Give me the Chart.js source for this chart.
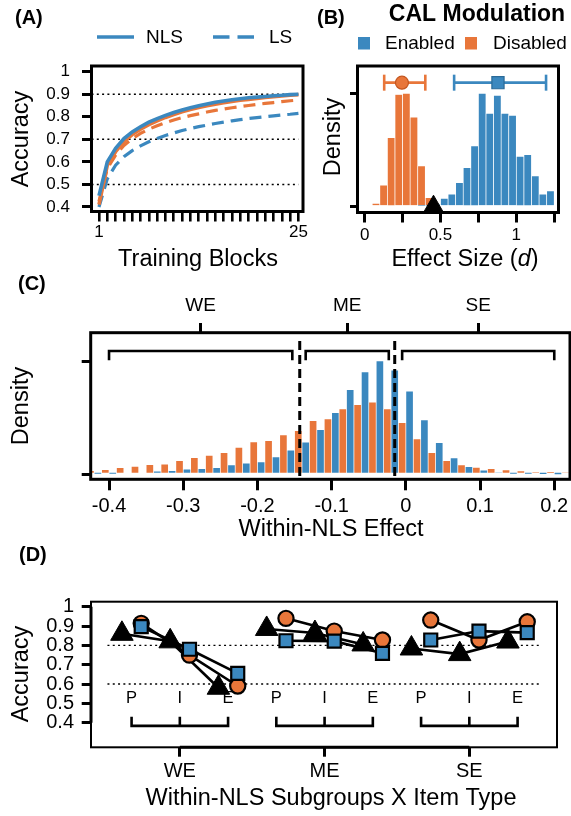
<!DOCTYPE html>
<html lang="en">
<head>
<meta charset="utf-8">
<title>CAL modulation</title>
<script src="https://cdn.jsdelivr.net/npm/chart.js@4.4.1/dist/chart.umd.min.js"></script>
<style>
  html, body { margin: 0; padding: 0; background: #ffffff; }
  #figure { position: relative; width: 571px; height: 816px; overflow: hidden; background: #ffffff; }
  #figure canvas { position: absolute; left: 0; top: 0; }
</style>
</head>
<body>
<div id="figure">
  <canvas id="chartA" width="571" height="816"></canvas>
  <canvas id="chartB" width="571" height="816"></canvas>
  <canvas id="chartC" width="571" height="816"></canvas>
  <canvas id="chartD" width="571" height="816"></canvas>
</div>
<script>
// ---- (A) learning curves ----
const trainingBlocks = [1, 2, 3, 4, 5, 6, 7, 8, 9, 10, 11, 12, 13, 14, 15, 16, 17, 18, 19, 20, 21, 22, 23, 24, 25];
const nlsEnabled  = [0.45, 0.60, 0.66, 0.703, 0.733, 0.756, 0.776, 0.792, 0.806, 0.819, 0.830, 0.840, 0.849, 0.857, 0.864, 0.870, 0.875, 0.880, 0.884, 0.887, 0.890, 0.893, 0.895, 0.898, 0.900];
const nlsDisabled = [0.41, 0.585, 0.645, 0.690, 0.721, 0.745, 0.765, 0.782, 0.797, 0.810, 0.822, 0.832, 0.841, 0.849, 0.856, 0.862, 0.868, 0.873, 0.877, 0.881, 0.885, 0.889, 0.892, 0.895, 0.898];
const lsDisabled  = [0.425, 0.57, 0.63, 0.673, 0.703, 0.726, 0.745, 0.760, 0.774, 0.786, 0.796, 0.805, 0.813, 0.821, 0.828, 0.834, 0.840, 0.845, 0.850, 0.855, 0.859, 0.863, 0.867, 0.871, 0.874];
const lsEnabled   = [0.40, 0.525, 0.585, 0.623, 0.650, 0.671, 0.689, 0.704, 0.717, 0.728, 0.739, 0.748, 0.756, 0.763, 0.770, 0.776, 0.782, 0.787, 0.792, 0.796, 0.800, 0.804, 0.808, 0.811, 0.815];
const accuracyTicks = [0.4, 0.5, 0.6, 0.7, 0.8, 0.9, 1];
const curveGuides = [0.5, 0.7, 0.9];

// ---- (B) effect size distributions ----
const effectBinMids = [0.075, 0.125, 0.175, 0.225, 0.275, 0.325, 0.375, 0.425, 0.475, 0.525, 0.575, 0.625,
                       0.675, 0.725, 0.775, 0.825, 0.875, 0.925, 0.975, 1.025, 1.075, 1.125, 1.175, 1.225];
const effectEnabled  = [0, 0, 0, 0, 0, 0, 0.01, 0.01, 0.02, 0.073, 0.112, 0.212,
                        0.344, 0.536, 1.0, 0.823, 0.982, 0.823, 0.806, 0.444, 0.459, 0.271, 0.112, 0.139];
const effectDisabled = [0.03, 0.19, 0.61, 0.99, 1.0, 0.79, 0.36, 0.08, 0, 0, 0, 0,
                        0, 0, 0, 0, 0, 0, 0, 0, 0, 0, 0, 0];
const effectMeanEnabled = 0.879;
const effectCIEnabled = [0.59, 1.196];
const effectMeanDisabled = 0.246;
const effectCIDisabled = [0.129, 0.40];
const effectObserved = 0.454;
const effectTicks = [0, 0.25, 0.5, 0.75, 1, 1.25];
const effectTickLabels = ['0', '', '0.5', '', '1', ''];

// ---- (C) within-NLS effect ----
const withinBinMids = [-0.42, -0.40, -0.38, -0.36, -0.34, -0.32, -0.30, -0.28, -0.26, -0.24, -0.22, -0.20, -0.18,
                       -0.16, -0.14, -0.12, -0.10, -0.08, -0.06, -0.04, -0.02, 0, 0.02, 0.04, 0.06, 0.08,
                       0.10, 0.12, 0.14, 0.16, 0.18, 0.20, 0.22];
const withinEnabled  = [0.006, 0.006, 0.015, 0.015, 0.024, 0.029, 0.042, 0.047, 0.056, 0.080, 0.095, 0.106, 0.150,
                        0.210, 0.281, 0.392, 0.542, 0.746, 0.903, 1.0, 0.918, 0.732, 0.478, 0.277, 0.142, 0.065,
                        0.033, 0.012, 0.006, 0.006, 0.002, 0.001, 0];
const withinDisabled = [0.029, 0.038, 0.056, 0.068, 0.082, 0.086, 0.118, 0.144, 0.165, 0.188, 0.236, 0.283, 0.295,
                        0.345, 0.383, 0.472, 0.487, 0.575, 0.613, 0.635, 0.575, 0.454, 0.310, 0.188, 0.118, 0.080,
                        0.059, 0.047, 0.035, 0.027, 0.018, 0.020, 0.012];
const withinTicks = [-0.4, -0.3, -0.2, -0.1, 0, 0.1, 0.2];
const subgroupNames = ['WE', 'ME', 'SE'];
const subgroupRanges = [[-0.4, -0.153], [-0.135, -0.023], [-0.005, 0.2]];
const subgroupCutoffs = [-0.143, -0.015];

// ---- (D) subgroup x item type accuracy ----
const itemTypes = ['P', 'I', 'E'];
const itemObserved = [0.86, 0.821, 0.581, 0.885, 0.864, 0.805, 0.784, 0.755, 0.82];
const itemDisabled = [0.914, 0.75, 0.59, 0.94, 0.874, 0.828, 0.931, 0.828, 0.922];
const itemEnabled  = [0.897, 0.78, 0.655, 0.824, 0.822, 0.759, 0.828, 0.874, 0.866];
const itemGuides = [0.6, 0.8];

// ---- shared look ----
const FONT = "'Liberation Sans', Arial, Helvetica, sans-serif";
const BLUE = '#3b88bf';
const ORANGE = '#e8763a';
const PAGE_W = 571;
const PAGE_H = 816;
const AXIS_W = 70;
const AXIS_H = 60;
const TITLE_SIZE = 23.5;

// every chart covers the whole page; the padding pins its plot box in place
function padFor(box, hasTop) {
  return {
    left: box.left - AXIS_W,
    top: box.top - (hasTop ? AXIS_H : 0),
    right: PAGE_W - box.right,
    bottom: PAGE_H - box.bottom - AXIS_H
  };
}

function linearAxis(cfg) {
  return {
    type: 'linear',
    axis: cfg.axis,
    position: cfg.position,
    min: cfg.min,
    max: cfg.max,
    offset: false,
    afterBuildTicks: scale => { scale.ticks = cfg.ticks.map(v => ({ value: v })); },
    afterFit: scale => {
      if (scale.isHorizontal()) scale.height = AXIS_H; else scale.width = AXIS_W;
      scale.paddingLeft = scale.paddingRight = scale.paddingTop = scale.paddingBottom = 0;
    },
    border: { display: false },
    grid: {
      offset: false, drawOnChartArea: false, drawTicks: true,
      tickLength: cfg.tickLength, tickWidth: cfg.tickWidth || 3, lineWidth: cfg.tickWidth || 3,
      tickColor: '#000', color: '#000'
    },
    ticks: {
      autoSkip: false, maxRotation: 0, minRotation: 0, padding: cfg.padding || 0,
      color: '#000', font: { family: FONT, size: cfg.fontSize || 17 },
      callback: cfg.label || (v => String(v))
    }
  };
}

function baseOptions(box, hasTop, scales) {
  return {
    responsive: false,
    animation: false,
    devicePixelRatio: 1,
    events: [],
    layout: { padding: padFor(box, hasTop) },
    plugins: { legend: { display: false }, tooltip: { enabled: false }, title: { display: false } },
    scales: scales
  };
}

function text(ctx, str, x, y, size, opt) {
  opt = opt || {};
  ctx.save();
  ctx.font = (opt.italic ? 'italic ' : '') + (opt.bold ? 'bold ' : '') + size + 'px ' + FONT;
  ctx.fillStyle = '#000';
  ctx.textAlign = opt.align || 'center';
  ctx.textBaseline = 'middle';
  ctx.translate(x, y);
  if (opt.rotate) ctx.rotate(opt.rotate);
  ctx.fillText(str, 0, 0);
  ctx.restore();
}

function frame(ctx, area, width) {
  ctx.save();
  ctx.strokeStyle = '#000';
  ctx.lineWidth = width;
  ctx.strokeRect(area.left, area.top, area.right - area.left, area.bottom - area.top);
  ctx.restore();
}

function segment(ctx, x1, y1, x2, y2, width, dash) {
  ctx.save();
  ctx.strokeStyle = '#000';
  ctx.lineWidth = width;
  ctx.setLineDash(dash || []);
  ctx.beginPath();
  ctx.moveTo(x1, y1);
  ctx.lineTo(x2, y2);
  ctx.stroke();
  ctx.restore();
}

function dottedGuides(chart, values, fromX, toX) {
  const { x, y } = chart.scales;
  values.forEach(v => {
    const py = y.getPixelForValue(v);
    segment(chart.ctx, x.getPixelForValue(fromX), py, x.getPixelForValue(toX), py, 1.4, [2, 3.3]);
  });
}

function bracket(ctx, x1, x2, tips, yLine, yTip, width) {
  ctx.save();
  ctx.strokeStyle = '#000';
  ctx.lineWidth = width;
  ctx.beginPath();
  ctx.moveTo(x1, yTip);
  ctx.lineTo(x1, yLine);
  ctx.lineTo(x2, yLine);
  ctx.lineTo(x2, yTip);
  tips.forEach(tx => { ctx.moveTo(tx, yLine); ctx.lineTo(tx, yTip); });
  ctx.stroke();
  ctx.restore();
}

// ================= (A) =================
function learningCurve(values, color, dashed) {
  return {
    data: trainingBlocks.map((b, i) => ({ x: b, y: values[i] })),
    borderColor: color,
    borderWidth: dashed ? 3.2 : 3.6,
    borderDash: dashed ? [12, 7] : [],
    pointRadius: 0,
    tension: 0,
    fill: false
  };
}

const boxA = { left: 91.5, top: 66, right: 303, bottom: 211.5 };
new Chart(document.getElementById('chartA'), {
  type: 'line',
  data: {
    datasets: [
      learningCurve(nlsEnabled, BLUE, false),
      learningCurve(nlsDisabled, ORANGE, false),
      learningCurve(lsDisabled, ORANGE, true),
      learningCurve(lsEnabled, BLUE, true)
    ]
  },
  options: baseOptions(boxA, false, {
    x: linearAxis({ position: 'bottom', min: 0.1, max: 25.55, ticks: trainingBlocks, tickLength: 10, tickWidth: 2.6,
                    padding: 1, fontSize: 17, label: v => (v === 1 || v === 25) ? String(v) : '' }),
    y: linearAxis({ position: 'left', min: 0.38, max: 1.025, ticks: accuracyTicks, tickLength: 9.5, padding: 12, fontSize: 17 })
  }),
  plugins: [{
    id: 'panelA',
    beforeDatasetsDraw(chart) {
      dottedGuides(chart, curveGuides, chart.scales.x.min, 25);
    },
    afterDraw(chart) {
      const ctx = chart.ctx;
      frame(ctx, chart.chartArea, 3);
      text(ctx, '(A)', 15, 18, 20, { bold: true, align: 'left' });
      // legend
      ctx.save();
      ctx.strokeStyle = BLUE;
      ctx.lineWidth = 3.6;
      ctx.beginPath(); ctx.moveTo(97, 37); ctx.lineTo(134, 37); ctx.stroke();
      ctx.setLineDash([16.5, 8]);
      ctx.beginPath(); ctx.moveTo(213, 37); ctx.lineTo(256, 37); ctx.stroke();
      ctx.restore();
      text(ctx, 'NLS', 146, 38, 19, { align: 'left' });
      text(ctx, 'LS', 269, 38, 19, { align: 'left' });
      text(ctx, 'Accuracy', 22, 139, TITLE_SIZE, { rotate: -Math.PI / 2 });
      text(ctx, 'Training Blocks', 198, 259.5, TITLE_SIZE);
    }
  }]
});

// ================= (B) =================
function histogram(mids, values, color, extra) {
  return Object.assign({
    type: 'bar',
    data: mids.map((m, i) => ({ x: m, y: values[i] })),
    backgroundColor: color,
    borderColor: 'rgba(255,255,255,0.75)',
    borderWidth: 0.7,
    barPercentage: 1,
    categoryPercentage: 1
  }, extra || {});
}

const CI_ROW = 1.094;
function intervalLine(range, color) {
  return {
    type: 'line',
    data: [{ x: range[0], y: CI_ROW }, { x: range[1], y: CI_ROW }],
    borderColor: color,
    borderWidth: 2.6,
    pointStyle: 'line',
    pointRotation: 90,
    pointRadius: 8,
    pointBorderWidth: 2.6,
    pointBorderColor: color,
    clip: false
  };
}
function meanMarker(value, color, shape, radius, edge) {
  return {
    type: 'line',
    data: [{ x: value, y: CI_ROW }],
    showLine: false,
    pointStyle: shape,
    pointRadius: radius,
    pointBackgroundColor: color,
    pointBorderColor: edge,
    pointBorderWidth: 1.2,
    clip: false
  };
}

const boxB = { left: 357.5, top: 66, right: 569.5, bottom: 212.5 };
new Chart(document.getElementById('chartB'), {
  type: 'bar',
  data: {
    datasets: [
      {
        type: 'line',
        data: [{ x: effectObserved, y: 0 }],
        showLine: false,
        pointStyle: 'triangle',
        pointRadius: 11.5,
        pointBackgroundColor: '#000',
        pointBorderColor: '#000',
        pointBorderWidth: 1,
        clip: false
      },
      meanMarker(effectMeanDisabled, ORANGE, 'circle', 6.5, '#c4561f'),
      meanMarker(effectMeanEnabled, BLUE, 'rect', 8.6, '#2a6a98'),
      intervalLine(effectCIDisabled, ORANGE),
      intervalLine(effectCIEnabled, BLUE),
      histogram(effectBinMids, effectEnabled, BLUE, { grouped: false }),
      histogram(effectBinMids, effectDisabled, ORANGE, { grouped: false })
    ]
  },
  options: baseOptions(boxB, false, {
    x: linearAxis({ position: 'bottom', min: -0.047, max: 1.278, ticks: effectTicks, tickLength: 10,
                    padding: 2.8, fontSize: 17, label: (v, i) => effectTickLabels[i] }),
    y: linearAxis({ position: 'left', min: -0.051, max: 1.241, ticks: [0, 1], tickLength: 7.5, label: () => '' })
  }),
  plugins: [{
    id: 'panelB',
    afterDatasetsDraw(chart) {
      frame(chart.ctx, chart.chartArea, 3);
    },
    afterDraw(chart) {
      const ctx = chart.ctx;
      text(ctx, '(B)', 317, 18, 20, { bold: true, align: 'left' });
      text(ctx, 'CAL Modulation', 477, 14.5, 23, { bold: true });
      ctx.save();
      ctx.fillStyle = BLUE;
      ctx.fillRect(358, 37, 12, 12.5);
      ctx.fillStyle = ORANGE;
      ctx.fillRect(465, 37, 12, 12.5);
      ctx.restore();
      text(ctx, 'Enabled', 385, 43.5, 19, { align: 'left' });
      text(ctx, 'Disabled', 493, 43.5, 19, { align: 'left' });
      text(ctx, 'Density', 334, 137, TITLE_SIZE, { rotate: -Math.PI / 2 });

      // axis title with an italic symbol
      const parts = [['Effect Size (', false], ['d', true], [')', false]];
      ctx.save();
      let total = 0;
      const widths = parts.map(p => {
        ctx.font = (p[1] ? 'italic ' : '') + TITLE_SIZE + 'px ' + FONT;
        const w = ctx.measureText(p[0]).width;
        total += w;
        return w;
      });
      ctx.restore();
      let x = 465 - total / 2;
      parts.forEach((p, i) => {
        text(ctx, p[0], x, 259.5, TITLE_SIZE, { italic: p[1], align: 'left' });
        x += widths[i];
      });
    }
  }]
});

// ================= (C) =================
const boxC = { left: 90.7, top: 332.7, right: 570, bottom: 479.3 };
const subgroupCenters = subgroupRanges.map(r => (r[0] + r[1]) / 2);
new Chart(document.getElementById('chartC'), {
  type: 'bar',
  data: {
    datasets: [
      { data: withinBinMids.map((m, i) => ({ x: m, y: withinDisabled[i] })), backgroundColor: ORANGE,
        barPercentage: 0.9, categoryPercentage: 1, xAxisID: 'x', yAxisID: 'y' },
      { data: withinBinMids.map((m, i) => ({ x: m, y: withinEnabled[i] })), backgroundColor: BLUE,
        barPercentage: 0.9, categoryPercentage: 1, xAxisID: 'x', yAxisID: 'y' }
    ]
  },
  options: baseOptions(boxC, true, {
    x: linearAxis({ axis: 'x', position: 'bottom', min: -0.4247, max: 0.2212, ticks: withinTicks, tickLength: 11,
                    padding: 4.4, fontSize: 20 }),
    xTop: linearAxis({ axis: 'x', position: 'top', min: -0.4247, max: 0.2212, ticks: subgroupCenters, tickLength: 9.7,
                       padding: 6, fontSize: 19, label: (v, i) => subgroupNames[i] }),
    y: linearAxis({ axis: 'y', position: 'left', min: -0.044, max: 1.253, ticks: [0, 1], tickLength: 9, label: () => '' })
  }),
  plugins: [{
    id: 'panelC',
    afterDatasetsDraw(chart) {
      const ctx = chart.ctx;
      const { x, y } = chart.scales;
      subgroupCutoffs.forEach(c => {
        const px = x.getPixelForValue(c);
        segment(ctx, px, y.getPixelForValue(1.18), px, y.getPixelForValue(-0.03), 3, [9, 5]);
      });
      subgroupRanges.forEach(r => {
        bracket(ctx, x.getPixelForValue(r[0]), x.getPixelForValue(r[1]), [],
                y.getPixelForValue(1.091), y.getPixelForValue(1.009), 2.6);
      });
      frame(ctx, chart.chartArea, 3);
    },
    afterDraw(chart) {
      const ctx = chart.ctx;
      text(ctx, '(C)', 18, 284, 20, { bold: true, align: 'left' });
      text(ctx, 'Density', 22, 406, TITLE_SIZE, { rotate: -Math.PI / 2 });
      text(ctx, 'Within-NLS Effect', 331, 529.5, TITLE_SIZE);
    }
  }]
});

// ================= (D) =================
const OBS_SHIFT = -0.2;
const MODEL_SHIFT = 0.2;
function subgroupSeries(values, shift, shape, radius, fillColor) {
  const pts = [];
  subgroupNames.forEach((g, gi) => {
    itemTypes.forEach((t, ti) => {
      const k = gi * itemTypes.length + ti;
      pts.push({ x: k + shift, y: values[k] });
    });
    pts.push({ x: (gi + 1) * itemTypes.length - 0.5, y: null });
  });
  return {
    data: pts,
    borderColor: '#000',
    borderWidth: 2.6,
    tension: 0,
    spanGaps: false,
    pointStyle: shape,
    pointRadius: radius,
    pointBackgroundColor: fillColor,
    pointBorderColor: '#000',
    pointBorderWidth: shape === 'triangle' ? 1 : 2.2,
    clip: false
  };
}

const boxD = { left: 91, top: 601.7, right: 570, bottom: 747.3 };
const groupMids = subgroupNames.map((g, gi) => gi * itemTypes.length + 1);
new Chart(document.getElementById('chartD'), {
  type: 'line',
  data: {
    datasets: [
      subgroupSeries(itemEnabled, MODEL_SHIFT, 'rect', 9.2, BLUE),
      subgroupSeries(itemDisabled, MODEL_SHIFT, 'circle', 7.6, ORANGE),
      subgroupSeries(itemObserved, OBS_SHIFT, 'triangle', 13, '#000')
    ]
  },
  options: baseOptions(boxD, false, {
    x: linearAxis({ position: 'bottom', min: -0.841, max: 8.817, ticks: groupMids, tickLength: 9.4, padding: 3,
                    fontSize: 20, label: (v, i) => subgroupNames[i] }),
    y: linearAxis({ position: 'left', min: 0.273, max: 1.026, ticks: accuracyTicks, tickLength: 9.3, padding: 7.7, fontSize: 20 })
  }),
  plugins: [{
    id: 'panelD',
    beforeDatasetsDraw(chart) {
      const ctx = chart.ctx;
      const { x, y } = chart.scales;
      dottedGuides(chart, itemGuides, -0.5, 8.5);
      frame(ctx, chart.chartArea, 2);
      const area = chart.chartArea;
      segment(ctx, area.left, y.getPixelForValue(1), area.left, y.getPixelForValue(0.4), 3);
      segment(ctx, x.getPixelForValue(groupMids[0]), area.bottom, x.getPixelForValue(groupMids[groupMids.length - 1]), area.bottom, 3);
      subgroupNames.forEach((g, gi) => {
        const first = gi * itemTypes.length;
        const tips = [];
        itemTypes.forEach((t, ti) => {
          const px = x.getPixelForValue(first + ti);
          tips.push(px);
          text(ctx, t, px, y.getPixelForValue(0.526), 16.5);
        });
        bracket(ctx, tips[0], tips[tips.length - 1], tips, y.getPixelForValue(0.384), y.getPixelForValue(0.431), 2.6);
      });
    },
    afterDraw(chart) {
      const ctx = chart.ctx;
      text(ctx, '(D)', 19, 555, 20, { bold: true, align: 'left' });
      text(ctx, 'Accuracy', 22, 674, TITLE_SIZE, { rotate: -Math.PI / 2 });
      text(ctx, 'Within-NLS Subgroups X Item Type', 331, 799, TITLE_SIZE);
    }
  }]
});
</script>
</body>
</html>
